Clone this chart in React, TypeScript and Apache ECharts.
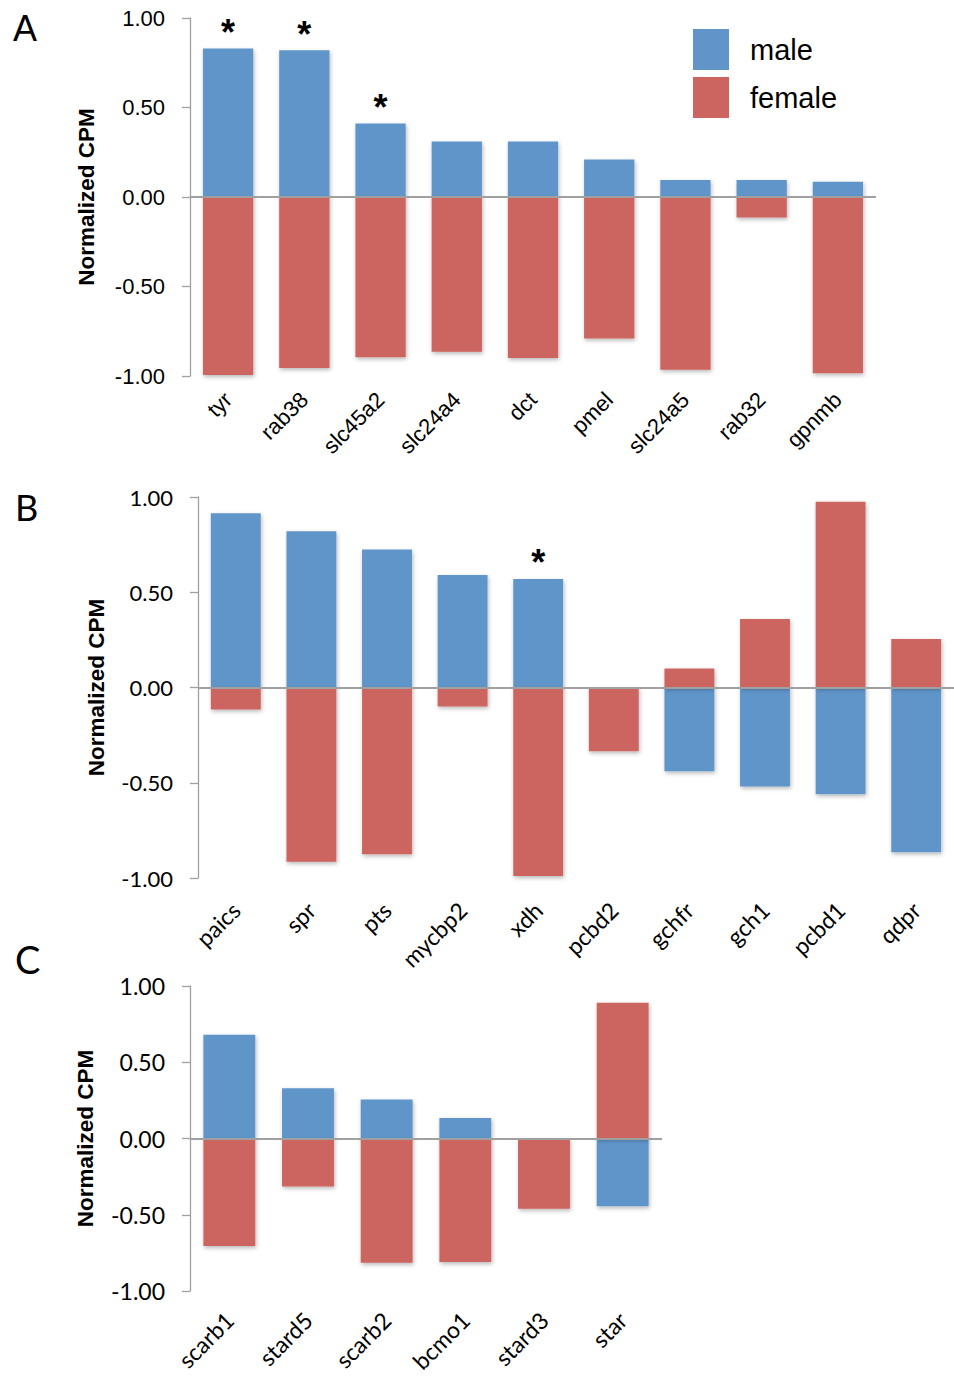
import React, { useEffect, useRef } from "react";
import * as echarts from "echarts";

const catsA = ["tyr", "rab38", "slc45a2", "slc24a4", "dct", "pmel", "slc24a5", "rab32", "gpnmb"];
const maleA = [0.83, 0.82, 0.41, 0.31, 0.31, 0.21, 0.095, 0.095, 0.085];
const femaleA = [-0.995, -0.955, -0.895, -0.865, -0.9, -0.79, -0.965, -0.115, -0.985];
const sigA = [true, true, true, false, false, false, false, false, false];

const catsB = ["paics", "spr", "pts", "mycbp2", "xdh", "pcbd2", "gchfr", "gch1", "pcbd1", "qdpr"];
const maleB = [0.915, 0.82, 0.725, 0.59, 0.57, 0, -0.44, -0.52, -0.56, -0.865];
const femaleB = [-0.115, -0.915, -0.875, -0.1, -0.99, -0.335, 0.1, 0.36, 0.975, 0.255];
const sigB = [false, false, false, false, true, false, false, false, false, false];

const catsC = ["scarb1", "stard5", "scarb2", "bcmo1", "stard3", "star"];
const maleC = [0.68, 0.33, 0.255, 0.135, 0, -0.445];
const femaleC = [-0.705, -0.315, -0.815, -0.81, -0.46, 0.89];
const sigC = [false, false, false, false, false, false];

const yTicks = { min: -1, max: 1, interval: 0.5 };

const MALE = "#6195c9";
const FEMALE = "#cc6560";
const AXIS = "#a0a0a0";

export default function App() {
  const ref = useRef<HTMLDivElement>(null);
  useEffect(() => {
    if (!ref.current) return;
    const chart = echarts.init(ref.current, null, { renderer: "svg" });

    const panels = [
      { cats: catsA, male: maleA, female: femaleA, sig: sigA, grid: { left: 190, top: 18, width: 686, height: 358 }, font: "Liberation Sans", tickSize: 22, catSize: 22, catMargin: 20, nameGap: 92 },
      { cats: catsB, male: maleB, female: femaleB, sig: sigB, grid: { left: 198, top: 497, width: 756, height: 381 }, font: "Lato", tickSize: 22, catSize: 23, catMargin: 28, nameGap: 90 },
      { cats: catsC, male: maleC, female: femaleC, sig: sigC, grid: { left: 190, top: 986, width: 472, height: 305 }, font: "Lato", tickSize: 23, catSize: 23, catMargin: 25, nameGap: 93 },
    ];

    const shadow = { shadowBlur: 4, shadowColor: "rgba(0,0,0,0.28)", shadowOffsetX: 1, shadowOffsetY: 2 };

    const option: any = {
      animation: false,
      backgroundColor: "#fff",
      legend: {
        orient: "vertical",
        left: 688,
        top: 24,
        itemWidth: 36,
        itemHeight: 41,
        itemGap: 7,
        icon: "rect",
        selectedMode: false,
        data: ["male", "female"],
        textStyle: { fontSize: 29, fontFamily: "Liberation Sans", color: "#000", padding: [0, 0, 6, 16] },
      },
      graphic: [
        { type: "text", left: 13, top: 10, style: { text: "A", font: "36px 'Liberation Sans'", fill: "#000" } },
        { type: "text", left: 15, top: 489, style: { text: "B", font: "36px Lato", fill: "#000" } },
        { type: "text", left: 15, top: 940, style: { text: "C", font: "38px Lato", fill: "#000" } },
      ],
      grid: panels.map((p) => ({ ...p.grid, containLabel: false, outerBoundsMode: "none" })),
      xAxis: panels.map((p, i) => ({
        type: "category",
        gridIndex: i,
        data: p.cats,
        axisLine: { show: false, onZero: false },
        axisTick: { show: false },
        splitLine: { show: false },
        axisLabel: { rotate: 45, margin: p.catMargin, fontSize: p.catSize, fontFamily: p.font, color: "#000", interval: 0 },
      })),
      yAxis: panels.map((p, i) => ({
        type: "value",
        gridIndex: i,
        ...yTicks,
        name: "Normalized CPM",
        nameLocation: "middle",
        nameRotate: 90,
        nameGap: p.nameGap,
        nameTextStyle: { fontSize: 22.5, fontWeight: "bold", fontFamily: "Liberation Sans", color: "#000" },
        axisLine: { show: true, lineStyle: { color: AXIS, width: 1.3 } },
        axisTick: { show: true, length: 8, inside: false, lineStyle: { color: AXIS, width: 1.3 } },
        splitLine: { show: false },
        axisLabel: { margin: 25, fontSize: p.tickSize, fontFamily: p.font, color: "#000", formatter: (v: number) => v.toFixed(2) },
      })),
      series: panels.flatMap((p, i) => [
        {
          type: "bar",
          name: "male",
          xAxisIndex: i,
          yAxisIndex: i,
          barWidth: "66%",
          barGap: "-100%",
          itemStyle: { color: MALE, ...shadow },
          data: p.male.map((v, k) => ({
            value: v,
            label: p.sig[k]
              ? { show: true, position: "top", distance: -2, formatter: "*", fontSize: 36, fontWeight: "bold", fontFamily: "Liberation Sans", color: "#000" }
              : { show: false },
          })),
          markLine: {
            silent: true,
            symbol: "none",
            label: { show: false },
            lineStyle: { color: AXIS, width: 2, type: "solid" },
            data: [{ yAxis: 0 }],
          },
          z: 2,
        },
        {
          type: "bar",
          name: "female",
          xAxisIndex: i,
          yAxisIndex: i,
          barWidth: "66%",
          barGap: "-100%",
          itemStyle: { color: FEMALE, ...shadow },
          data: p.female,
          z: 2,
        },
      ]),
    };

    chart.setOption(option);
    return () => chart.dispose();
  }, []);

  return <div ref={ref} style={{ position: "absolute", left: 0, top: 0, width: 954, height: 1377 }} />;
}
